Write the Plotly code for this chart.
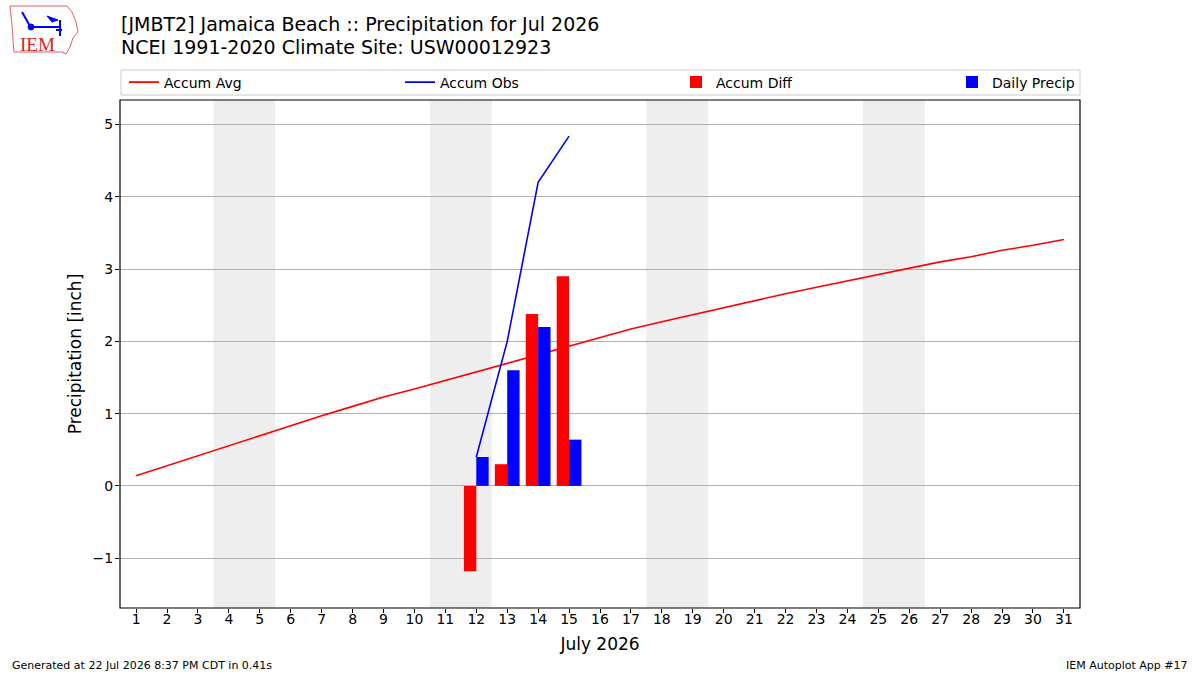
import plotly.graph_objects as go

# ---------------- data ----------------
days = list(range(1, 32))
accum_avg = [0.14, 0.28, 0.42, 0.56, 0.70, 0.83, 0.97, 1.10, 1.23, 1.34,
             1.46, 1.58, 1.70, 1.82, 1.94, 2.05, 2.17, 2.27, 2.37, 2.47,
             2.56, 2.66, 2.75, 2.84, 2.93, 3.02, 3.10, 3.17, 3.26, 3.33, 3.41]
obs_days = [12, 13, 14, 15]
accum_obs = [0.40, 2.00, 4.20, 4.84]
accum_diff = [-1.18, 0.30, 2.38, 2.90]
daily_precip = [0.40, 1.60, 2.20, 0.64]
weekend_starts = [4, 11, 18, 25]
y_ticks = [-1, 0, 1, 2, 3, 4, 5]

title_line1 = "[JMBT2] Jamaica Beach :: Precipitation for Jul 2026"
title_line2 = "NCEI 1991-2020 Climate Site: USW00012923"

FONT = "DejaVu Sans"

# pixel geometry helpers (plot area 120..1080 x 100..608)
L, R, T, B = 120, 1080, 100, 608


def px(x):
    return (x - L) / (R - L)


def py(y):
    return (B - y) / (B - T)


fig = go.Figure()

fig.add_trace(go.Scatter(x=days, y=accum_avg, mode="lines", name="Accum Avg",
                         line=dict(color="red", width=1.6), legend="legend", zorder=0,
                         showlegend=True))
fig.add_trace(go.Scatter(x=obs_days, y=accum_obs, mode="lines", name="Accum Obs",
                         line=dict(color="blue", width=1.6), legend="legend2", zorder=2))
fig.add_trace(go.Bar(x=obs_days, y=accum_diff, name="Accum Diff", width=0.4, offset=-0.4,
                     marker=dict(color="red", line=dict(width=0)), legend="legend3", zorder=1))
fig.add_trace(go.Bar(x=obs_days, y=daily_precip, name="Daily Precip", width=0.4, offset=0,
                     marker=dict(color="blue", line=dict(width=0)), legend="legend4", zorder=1))

shapes = []
for d in weekend_starts:
    shapes.append(dict(type="rect", xref="x", yref="paper", x0=d - 0.5, x1=d + 1.5,
                       y0=0, y1=1, fillcolor="#eeeeee", line=dict(width=0), layer="below"))
# plot frame
shapes.append(dict(type="rect", xref="paper", yref="paper", x0=0, x1=1, y0=0, y1=1,
                   line=dict(color="black", width=1.2), fillcolor="rgba(0,0,0,0)", layer="above"))
# legend frame
shapes.append(dict(type="rect", xref="paper", yref="paper", x0=px(121), x1=px(1080),
                   y0=py(95), y1=py(70), line=dict(color="#cccccc", width=1),
                   fillcolor="rgba(255,255,255,0.8)", layer="below"))

# simplified IEM logo (Iowa outline + vane)
iowa = [(10, 6), (67, 6), (72, 12), (76, 22), (78, 32), (73, 38), (70, 47), (66, 54),
        (62, 52), (14, 52), (13, 40), (12, 25), (10, 6)]
path = "M " + " L ".join(f"{px(a):.5f},{py(b):.5f}" for a, b in iowa) + " Z"
shapes.append(dict(type="path", xref="paper", yref="paper", path=path,
                   line=dict(color="#e06060", width=1)))
for (x0, y0, x1, y1) in [(22, 12, 30, 26), (30, 27, 61, 27), (60, 20, 60, 36), (56, 30, 62, 30)]:
    shapes.append(dict(type="line", xref="paper", yref="paper", x0=px(x0), y0=py(y0),
                       x1=px(x1), y1=py(y1), line=dict(color="blue", width=2)))
shapes.append(dict(type="path", xref="paper", yref="paper",
                   path=f"M {px(47):.5f},{py(16):.5f} L {px(58):.5f},{py(20):.5f} L {px(52):.5f},{py(22):.5f} Z",
                   fillcolor="blue", line=dict(color="blue", width=1)))
shapes.append(dict(type="circle", xref="paper", yref="paper", x0=px(28), x1=px(34),
                   y0=py(30), y1=py(24), fillcolor="blue", line=dict(color="blue", width=1)))

annotations = [
    dict(text=title_line1, xref="paper", yref="paper", x=px(119), y=py(24),
         xanchor="left", yanchor="middle", showarrow=False,
         font=dict(family=FONT, size=19, color="black")),
    dict(text=title_line2, xref="paper", yref="paper", x=px(119), y=py(47),
         xanchor="left", yanchor="middle", showarrow=False,
         font=dict(family=FONT, size=19, color="black")),
    dict(text="IEM", xref="paper", yref="paper", x=px(37), y=py(45), showarrow=False,
         font=dict(family="Liberation Serif", size=19, color="#dd2222"), xanchor="center",
         yanchor="middle"),
    dict(text="Generated at 22 Jul 2026 8:37 PM CDT in 0.41s", xref="paper", yref="paper",
         x=px(10), y=py(665), xanchor="left", yanchor="middle", showarrow=False,
         font=dict(family=FONT, size=11, color="black")),
    dict(text="IEM Autoplot App #17", xref="paper", yref="paper",
         x=px(1190), y=py(665), xanchor="right", yanchor="middle", showarrow=False,
         font=dict(family=FONT, size=11, color="black")),
]

leg_common = dict(orientation="h", yanchor="middle", y=py(82.5), xanchor="left",
                  bgcolor="rgba(0,0,0,0)", borderwidth=0, visible=True,
                  font=dict(family=FONT, size=14, color="black"))

fig.update_layout(
    width=1200, height=675,
    margin=dict(l=L, r=1200 - R, t=T, b=675 - B),
    paper_bgcolor="white", plot_bgcolor="white",
    font=dict(family=FONT, size=14, color="black"),
    barmode="overlay",
    showlegend=True,
    shapes=shapes,
    annotations=annotations,
    legend=dict(x=px(124), **leg_common),
    legend2=dict(x=px(400), **leg_common),
    legend3=dict(x=px(676), **leg_common),
    legend4=dict(x=px(952), **leg_common),
    xaxis=dict(range=[0.48, 31.52], tickmode="array", tickvals=days,
               ticktext=[str(d) for d in days], ticks="outside", ticklen=4,
               tickcolor="black", showgrid=False, zeroline=False, showline=False,
               ticklabelstandoff=-6,
               title=dict(text="July 2026", font=dict(family=FONT, size=17), standoff=12),
               tickfont=dict(family=FONT, size=14)),
    yaxis=dict(range=[-1.69, 5.34], tickmode="array", tickvals=y_ticks,
               ticks="outside", ticklen=4, tickcolor="black", showgrid=True,
               gridcolor="#b0b0b0", gridwidth=1, zeroline=False, showline=False,
               ticklabelstandoff=-1,
               title=dict(text="Precipitation [inch]", font=dict(family=FONT, size=17), standoff=6),
               tickfont=dict(family=FONT, size=14)),
)

fig.write_html("out.html")
